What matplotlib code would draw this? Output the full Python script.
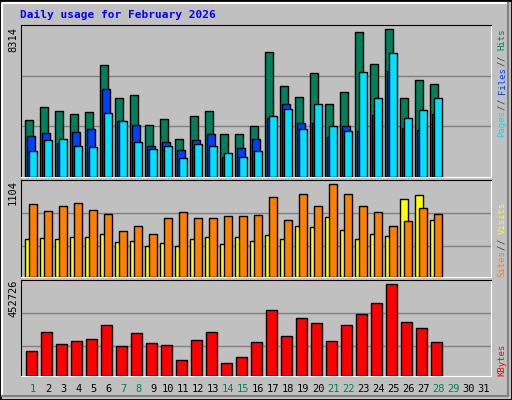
import matplotlib
matplotlib.use("Agg")
import matplotlib.pyplot as plt
from matplotlib.patches import Rectangle
from matplotlib.lines import Line2D
import numpy as np

days = list(range(1, 32))
hits = [3143, 3837, 3636, 3472, 3581, 6103, 4294, 4458, 2869, 3198, 2101, 3362, 3636, 2375,
        2375, 2814, 6815, 4952, 4349, 5664, 4020, 4623, 7912, 6158, 8076, 4294, 5281, 5061]
files = [2266, 2430, 1882, 2485, 2649, 4787, 3088, 2869, 1717, 1937, 1498, 2046, 2375, 1115,
         1608, 2101, 3252, 4020, 2978, 2978, 2211, 2814, 2540, 3417, 5774, 2704, 2594, 3472]
pages = [1443, 2046, 2101, 1717, 1663, 3526, 3088, 1937, 1553, 1717, 1060, 1827, 1717, 1334,
         1115, 1443, 3362, 3745, 2649, 4020, 2814, 2540, 5719, 4294, 6760, 3252, 3691, 4294]
visits = [428, 439, 428, 451, 451, 485, 393, 405, 348, 382, 348, 428, 451, 371,
          451, 405, 474, 428, 577, 565, 680, 531, 428, 485, 462, 886, 932, 646]
sites = [829, 749, 806, 840, 760, 714, 520, 577, 485, 669, 737, 669, 669, 691,
         691, 703, 909, 646, 944, 806, 1058, 944, 806, 737, 577, 634, 783, 714]
kbytes = [115559, 205790, 148802, 163049, 172547, 239033, 139304, 201041, 153551, 144053,
          77567, 167798, 205790, 63320, 91814, 158300, 310268, 186794, 272276, 248531,
          163049, 239033, 291272, 343511, 433742, 253280, 224786, 158300]
max_hits, max_visits, max_kb = 8314, 1104, 452726
weekend = {1, 7, 8, 14, 15, 21, 22, 28, 29}

W, H = 512, 400
BG = "#C0C0C0"
fig = plt.figure(figsize=(5.12, 4.0), dpi=100, facecolor=BG)
fig.patches.append(Rectangle((0, 0), 1, 1, transform=fig.transFigure, fill=False,
                             edgecolor="black", lw=2))
fig.lines.append(Line2D([2/W, 2/W, 1-4/W], [4/H, 1-3/H, 1-3/H], transform=fig.transFigure, color="white", lw=1.5))
fig.lines.append(Line2D([2/W, 1-4/W, 1-4/W], [4/H, 4/H, 1-3/H], transform=fig.transFigure, color="#808080", lw=1.5))

x0, x1 = 20.7, 490.7
def mkax(ytop, ybot):
    ax = fig.add_axes([x0/W, 1-ybot/H, (x1-x0)/W, (ybot-ytop)/H], facecolor=BG)
    ax.set_xlim(0.16, 31.49)
    for s in ["left", "top"]:
        ax.spines[s].set_color("black")
    for s in ["right", "bottom"]:
        ax.spines[s].set_color("white")
    ax.set_xticks([]); ax.set_yticks([])
    return ax

d = np.arange(1, 29)
ek = dict(edgecolor="black", linewidth=1, align="edge", zorder=3)
ax1 = mkax(25, 177)
ax1.set_ylim(0, max_hits)
for g in (max_hits/3, 2*max_hits/3):
    ax1.axhline(g, color="#808080", lw=1, zorder=1)
ax1.bar(d-0.53, hits, width=0.49, color="#00805C", **ek)
ax1.bar(d-0.40, files, width=0.49, color="#0040FF", **ek)
ax1.bar(d-0.29, pages, width=0.51, color="#00E0FF", **ek)

ax2 = mkax(180, 277)
ax2.set_ylim(0, max_visits)
for g in (max_visits*91/289, max_visits*190/289):
    ax2.axhline(g, color="#808080", lw=1, zorder=1)
ax2.bar(d-0.53, visits, width=0.49, color="#FFFF00", **ek)
ax2.bar(d-0.27, sites, width=0.49, color="#FF8000", **ek)

ax3 = mkax(280, 376)
ax3.set_ylim(0, max_kb)
for g in (max_kb*88/286, max_kb*187/286):
    ax3.axhline(g, color="#808080", lw=1, zorder=1)
ax3.bar(d-0.47, kbytes, width=0.69, color="#FF0000", **ek)

mono = "DejaVu Sans Mono"
fig.text(20/W, 1-15/H, "Daily usage for February 2026", color="#0000FF", family=mono,
         weight="bold", fontsize=8, va="center")
for lab, yc in ((str(max_hits), 40), (str(max_visits), 193), (str(max_kb), 298)):
    fig.text(13/W, 1-yc/H, lab, rotation=90, family=mono, fontsize=7.5, ha="center", va="center")

step = 0.602 * 6.5 * 100 / 72
for parts, ybot in (([("Pages", "#00E0FF"), (" / ", "#404040"), ("Files", "#0040FF"), (" / ", "#404040"), ("Hits", "#00805C")], 137),
                    ([("Sites", "#FF8000"), (" / ", "#404040"), ("Visits", "#FFFF00")], 277),
                    ([("KBytes", "#FF0000")], 376)):
    y = ybot
    for txt, col in parts:
        if txt.strip():
            fig.text(502/W, 1-y/H, txt.strip(), rotation=90, family=mono, fontsize=6.5,
                     color=col, ha="center", va="bottom")
        else:
            pass
        if txt.strip() == "/":
            fig.text(502/W, 1-(y - step)/H, "/", rotation=90, family=mono, fontsize=6.5,
                     color=col, ha="center", va="bottom")
            # replace the stripped draw above
        y -= len(txt) * step

fig.texts = [t for t in fig.texts if not (t.get_text() == "/" and t.get_position()[1] in ())]
for dd in days:
    xp = x0 + (dd - 0.16) * (x1 - x0) / 31.33
    fig.text(xp/W, 1-389/H, str(dd), family=mono, fontsize=7.5, ha="center", va="center",
             color="#00805C" if dd in weekend else "black")

fig.savefig("out.png", dpi=100, facecolor=BG)
